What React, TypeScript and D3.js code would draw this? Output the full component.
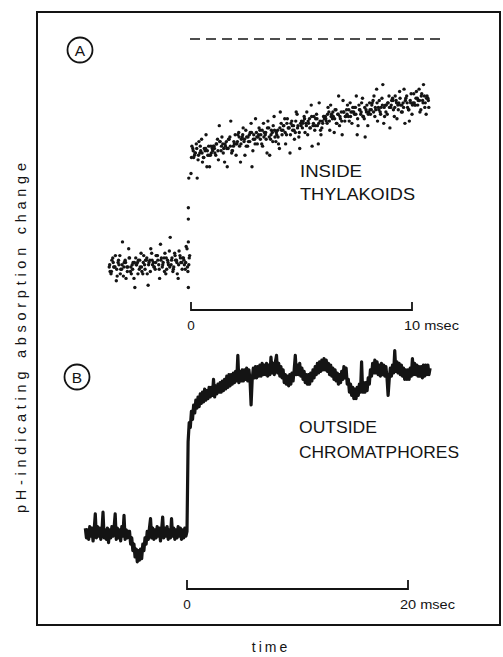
import React from "react";
import * as d3 from "d3";

const W = 503;
const H = 657;

// ---- Panel A: pH-indicating absorption change inside thylakoids (three overlaid sweeps) ----
const A_BAR_TICKS = [0, 10]; // msec
const A_FULL_LEVEL = 100; // dashed reference level
const A_PRE_START = -3.7; // msec, first pre-flash sample
const A_POST_START = 0.0; // msec, first post-flash sample
const A_STEP = 0.08; // msec between samples of one sweep
const A_SWEEP_OFFSETS = [0, 0.04, 0.02]; // msec shift of each sweep

const A_PRE_SWEEP1 = [
  0, -3, 4, 0, -6, 2, 5, -1, -4, 3, 0, 8, -2, 1, -5, 4, 2, -1, 6, -3, 1, 3, -8, 3, 6, 2, -1, 5, 1, 10,
  0, 4, -3, 3, 7, 1, -2, 6, 3, -5, 5, 2, 4, -1, 8, 1,
];
const A_PRE_SWEEP2 = [
  -2, 3, 0, 5, -4, 1, -1, 11, 2, -5, 0, 4, -3, 2, -9, 1, 3, 0, -2, 5, 3, -3, 2, 8, 1, 0, 5, 3, -5, 4,
  2, 6, -1, 1, 13, 4, 0, 3, -3, 7, 2, 4, 1, 9, -2, 5,
];
const A_PRE_SWEEP3 = [
  1, -2, 2, 0, -1, 3, -3, 1, 0, 2, -2, 4, 0, -1, 2, 1, -3, 3, 0, 2, -1, 4, 1, -2, 3, 0, 2, 5, -1, 3,
  1, -2, 4, 2, 0, 3, -1, 5, 2, 1, 4, -1, 3, 2, 0, 4,
];
// samples caught during the flash itself
const A_RISE_T = [-0.12, -0.12, -0.12, -0.12, -0.1];
const A_RISE_V = [-9, 11, 21, 26, 39];

const A_POST_SWEEP1 = [
  41, 52, 49, 54, 47, 50, 56, 48, 51, 44, 53, 49, 52,
  53, 49, 56, 62, 51, 54, 46, 55, 52, 57, 50, 53, 58,
  54, 59, 46, 57, 55, 60, 53, 58, 63, 51, 56, 59,
  57, 60, 54, 63, 58, 50, 61, 56, 59, 66, 55, 60, 52,
  63, 60, 65, 58, 61, 50, 64, 62, 59, 67, 57, 63,
  61, 66, 63, 58, 65, 71, 62, 60, 67, 54, 64, 61, 66,
  66, 63, 68, 71, 65, 59, 69, 67, 62, 68, 73, 64,
  69, 66, 72, 63, 68, 70, 58, 71, 67, 74, 65, 69, 62,
  72, 69, 73, 66, 78, 70, 68, 74, 63, 71, 67, 75,
  70, 74, 66, 73, 71, 77, 68, 72, 63, 75, 69, 73, 67,
  76, 71, 74, 78, 69, 73, 75, 67, 74,
];
const A_POST_SWEEP2 = [
  53, 48, 50, 39, 55, 51, 46, 52, 58, 49, 44, 50, 53,
  50, 54, 47, 55, 57, 52, 53, 44, 56, 64, 51, 54, 49,
  58, 53, 56, 61, 49, 57, 55, 59, 44, 58, 65, 54,
  61, 58, 53, 59, 56, 64, 49, 60, 62, 57, 58, 54, 68,
  58, 62, 54, 65, 61, 63, 60, 56, 68, 62, 52, 64,
  64, 59, 68, 63, 61, 53, 66, 65, 62, 72, 58, 63, 65,
  64, 70, 60, 67, 66, 69, 63, 75, 65, 58, 68, 66,
  71, 64, 68, 70, 67, 75, 62, 69, 72, 66, 57, 71, 68,
  67, 72, 75, 69, 64, 73, 70, 80, 66, 71, 72, 61,
  73, 69, 75, 65, 72, 71, 68, 78, 74, 70, 64, 76, 72,
  71, 77, 73, 68, 76, 80, 72, 75, 70,
];
const A_POST_SWEEP3 = [
  48, 51, 50, 52, 49, 53, 50, 48, 52, 51, 49, 53, 51,
  52, 54, 51, 55, 53, 50, 54, 52, 56, 53, 51, 55, 54,
  55, 57, 54, 58, 56, 53, 57, 55, 59, 56, 54, 57,
  58, 56, 60, 57, 59, 61, 57, 58, 55, 60, 59, 57, 61,
  60, 62, 59, 63, 61, 58, 62, 60, 64, 61, 59, 62,
  63, 65, 62, 64, 61, 66, 63, 62, 65, 63, 60, 64, 66,
  65, 67, 64, 66, 68, 65, 63, 67, 66, 64, 68, 66,
  67, 69, 66, 68, 70, 67, 65, 69, 68, 66, 70, 68, 67,
  69, 71, 68, 70, 72, 69, 67, 71, 70, 68, 72, 70,
  71, 73, 70, 72, 69, 74, 71, 70, 73, 72, 69, 72, 71,
  72, 74, 71, 73, 75, 72, 70, 74, 73,
];

// ---- Panel B: pH-indicating absorption change outside chromatophores (continuous trace) ----
const B_BAR_TICKS = [0, 20]; // msec
const B_START = -9.2; // msec
const B_STEP = 0.1; // msec
const B_TRACE = [
  // before the flash (-9.2 .. 0.0 msec)
  3, -3, 2, -4, 4, -2, 3, -5, 2, 12,
  -3, 4, -2, 3, -4, 1, 13, -3, 2, -4,
  3, -6, 2, -3, 4, -2, 3, 12, -4, 3,
  -3, 2, -5, 4, -2, 11, -4, 2, -3, 1,
  1, -7, -3, -11, -7, -15, -10, -18, -11, -17,
  -10, -16, -7, -11, -3, -7, 1, -4, 3,
  9, -3, 3, -4, 2, -3, 4, -2, 3, -5, 2,
  10, -3, 3, -2, 4, -4, 2, -3, 9, -2,
  3, -4, 2, -3, 4, -2, 3, -4, 2, -3, 3, -2, 1,
  // after the flash (0.1 .. 22.0 msec)
  57, 69, 66, 76, 71, 80, 75, 83, 78, 85,
  79, 87, 81, 88, 82, 90, 83, 89, 84, 91,
  85, 91, 86, 96, 85, 92, 87, 93, 88, 94,
  88, 95, 89, 96, 90, 98, 91, 99, 92, 99,
  93, 100, 94, 101, 95, 111, 94, 101, 95, 102,
  95, 102, 96, 103, 95, 102, 96, 80, 96, 103,
  97, 104, 97, 104, 98, 105, 98, 106, 99, 105,
  99, 106, 98, 105, 99, 110, 100, 106, 99, 107,
  111, 100, 106, 98, 104, 97, 102, 94, 99, 93,
  98, 92, 99, 93, 100, 95, 102, 111, 99, 105,
  99, 106, 98, 103, 96, 101, 94, 99, 93, 99,
  93, 100, 95, 102, 97, 104, 99, 106, 100, 107,
  101, 108, 102, 109, 102, 108, 101, 106, 99, 105,
  98, 103, 96, 102, 95, 100, 93, 99, 94, 101,
  96, 104, 97, 103, 93, 96, 88, 93, 86, 91,
  84, 90, 84, 91, 86, 93, 88, 107, 88, 94,
  88, 94, 89, 97, 93, 102, 98, 106, 100, 108,
  100, 107, 99, 105, 98, 106, 99, 105, 98, 104,
  97, 86, 96, 103, 98, 105, 100, 114, 101, 107,
  100, 106, 99, 105, 98, 103, 96, 102, 96, 102,
  96, 103, 98, 109, 99, 106, 99, 105, 98, 104,
  98, 104, 97, 105, 98, 105, 99, 105, 99, 103,
];

const INK = "#141414";
const FONT = "'Liberation Sans', Arial, Helvetica, sans-serif";

type Pt = { t: number; v: number };

function sweep(values: number[], start: number, step: number, offset: number): Pt[] {
  return values.map((v, i) => ({ t: start + offset + i * step, v }));
}

export default function App() {
  // Panel A scales
  const xA = d3.scaleLinear().domain([0, 10]).range([191, 412]);
  const yA = d3.scaleLinear().domain([0, 100]).range([267, 39]);
  // Panel B scales
  const xB = d3.scaleLinear().domain([0, 20]).range([187, 408]);
  const yB = d3.scaleLinear().domain([0, 100]).range([533, 373]);

  const preSweeps = [A_PRE_SWEEP1, A_PRE_SWEEP2, A_PRE_SWEEP3];
  const postSweeps = [A_POST_SWEEP1, A_POST_SWEEP2, A_POST_SWEEP3];
  const dotsA: Pt[] = [
    ...preSweeps.flatMap((s, k) => sweep(s, A_PRE_START, A_STEP, A_SWEEP_OFFSETS[k])),
    ...A_RISE_T.map((t, i) => ({ t, v: A_RISE_V[i] })),
    ...postSweeps.flatMap((s, k) => sweep(s, A_POST_START, A_STEP, A_SWEEP_OFFSETS[k])),
  ];

  const traceB = d3
    .line<number>()
    .x((_, i) => xB(B_START + i * B_STEP))
    .y((d) => yB(d));

  const scaleBar = (
    x: d3.ScaleLinear<number, number>,
    ticks: number[],
    y: number,
    h: number,
    labelY: number,
    key: string
  ) => {
    const x0 = x(ticks[0]);
    const x1 = x(ticks[1]);
    return (
      <g key={key}>
        <path
          d={`M${x0},${y - h}V${y}H${x1}V${y - h}`}
          fill="none"
          stroke={INK}
          strokeWidth={1.8}
        />
        <text x={x0} y={labelY} textAnchor="middle" fontSize={13.5} fill={INK}>
          {ticks[0]}
        </text>
        <text
          x={x1 - 8}
          y={labelY}
          fontSize={13.5}
          fill={INK}
          textLength={55}
          lengthAdjust="spacingAndGlyphs"
        >
          {`${ticks[1]} msec`}
        </text>
      </g>
    );
  };

  return (
    <svg
      width={W}
      height={H}
      viewBox={`0 0 ${W} ${H}`}
      style={{ position: "absolute", left: 0, top: 0, background: "#fff" }}
      fontFamily={FONT}
    >
      <rect x={0} y={0} width={W} height={H} fill="#fff" />
      {/* frame */}
      <rect x={37} y={12} width={463} height={613} fill="none" stroke={INK} strokeWidth={2} />

      {/* y-axis title */}
      <text
        transform="translate(26,338) rotate(-90)"
        textAnchor="middle"
        fontSize={14.5}
        fill={INK}
        textLength={350}
        lengthAdjust="spacing"
      >
        pH-indicating absorption change
      </text>
      {/* x-axis title */}
      <text x={271} y={652} textAnchor="middle" fontSize={14} fill={INK} letterSpacing={3}>
        time
      </text>

      {/* Panel A */}
      <circle cx={80} cy={50} r={12.5} fill="none" stroke={INK} strokeWidth={1.8} />
      <text x={80} y={55.5} textAnchor="middle" fontSize={15.5} fill={INK}>
        A
      </text>
      <line
        x1={190}
        x2={442}
        y1={yA(A_FULL_LEVEL)}
        y2={yA(A_FULL_LEVEL)}
        stroke={INK}
        strokeWidth={1.6}
        strokeDasharray="10 6"
      />
      <g fill={INK}>
        {dotsA.map((d, i) => (
          <circle key={i} cx={xA(d.t)} cy={yA(d.v)} r={1.7} />
        ))}
      </g>
      <text x={300} y={177} fontSize={17} fill={INK} textLength={62} lengthAdjust="spacingAndGlyphs">
        INSIDE
      </text>
      <text x={300} y={200} fontSize={17} fill={INK} textLength={115} lengthAdjust="spacingAndGlyphs">
        THYLAKOIDS
      </text>
      {scaleBar(xA, A_BAR_TICKS, 310, 8, 330, "barA")}

      {/* Panel B */}
      <circle cx={77} cy={377} r={12.5} fill="none" stroke={INK} strokeWidth={1.8} />
      <text x={77} y={382.5} textAnchor="middle" fontSize={15.5} fill={INK}>
        B
      </text>
      <path
        d={traceB(B_TRACE) ?? ""}
        fill="none"
        stroke={INK}
        strokeWidth={3.2}
        strokeLinejoin="round"
      />
      <text x={299} y={433} fontSize={17} fill={INK} textLength={78} lengthAdjust="spacingAndGlyphs">
        OUTSIDE
      </text>
      <text x={299} y={458} fontSize={17} fill={INK} textLength={160} lengthAdjust="spacingAndGlyphs">
        CHROMATPHORES
      </text>
      {scaleBar(xB, B_BAR_TICKS, 589, 9, 609, "barB")}
    </svg>
  );
}
